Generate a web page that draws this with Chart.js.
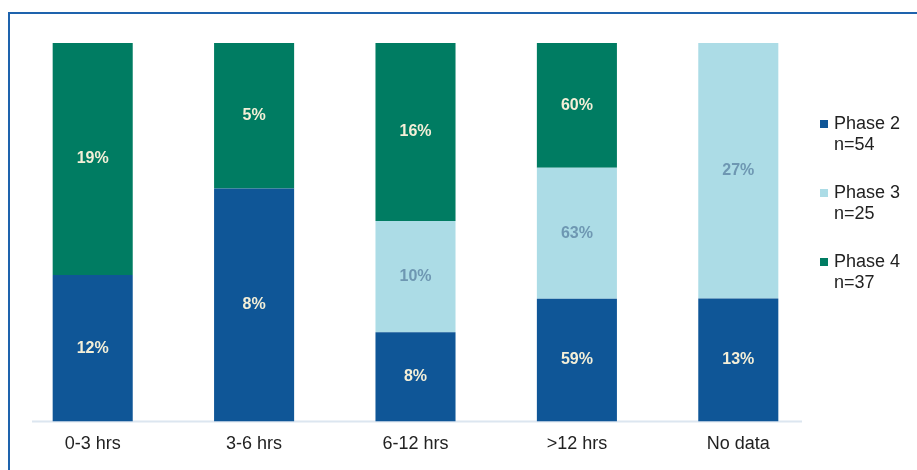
<!DOCTYPE html>
<html>
<head>
<meta charset="utf-8">
<script src="https://cdn.jsdelivr.net/npm/chart.js@4/dist/chart.umd.min.js"></script>
<style>
  html, body { margin: 0; padding: 0; background: #fff; }
  #wrap { position: relative; width: 917px; height: 470px; }
</style>
</head>
<body>
<div id="wrap"><canvas id="chart"></canvas></div>
<script>
// Time-to-event groups, share of each phase (labels are the printed percentages)
const categories = ['0-3 hrs', '3-6 hrs', '6-12 hrs', '>12 hrs', 'No data'];
const phase2 = [12, 8, 8, 59, 13];
const phase3 = [null, null, 10, 63, 27];
const phase4 = [19, 5, 16, 60, null];

const seriesNames = ['Phase 2', 'Phase 3', 'Phase 4'];
const seriesCounts = [54, 25, 37];
const seriesColors = ['#0f5697', '#acdce6', '#007c62'];
const labelColors = ['#f4efd8', '#6e97b2', '#f4efd8'];

const FONT = '"Liberation Sans", Arial, sans-serif';
const raw = [phase2, phase3, phase4];

// each column is stacked to 100
const totals = categories.map((_, i) => raw.reduce((s, arr) => s + (arr[i] || 0), 0));
const shares = raw.map(arr => arr.map((v, i) => (v == null ? null : v / totals[i] * 100)));

const segmentLabels = {
    id: 'segmentLabels',
    afterDatasetsDraw(chart) {
        const ctx = chart.ctx;
        ctx.save();
        ctx.font = 'bold 16px ' + FONT;
        ctx.textAlign = 'center';
        ctx.textBaseline = 'middle';
        chart.data.datasets.forEach((ds, di) => {
            const meta = chart.getDatasetMeta(di);
            meta.data.forEach((bar, i) => {
                const v = raw[di][i];
                if (v == null) return;
                ctx.fillStyle = labelColors[di];
                ctx.fillText(v + '%', bar.x, (bar.y + bar.base) / 2);
            });
        });
        ctx.restore();
    }
};

const frameAndLegend = {
    id: 'frameAndLegend',
    beforeDatasetsDraw(chart) {
        const ctx = chart.ctx;
        const area = chart.chartArea;
        ctx.save();
        ctx.strokeStyle = '#dce6f0';
        ctx.lineWidth = 2;
        ctx.beginPath();
        ctx.moveTo(32, area.bottom);
        ctx.lineTo(802, area.bottom);
        ctx.stroke();
        ctx.restore();
    },
    afterDraw(chart) {
        const ctx = chart.ctx;
        ctx.save();
        // outer frame
        ctx.strokeStyle = '#1e63ad';
        ctx.lineWidth = 2;
        ctx.beginPath();
        ctx.moveTo(9, 470);
        ctx.lineTo(9, 13);
        ctx.lineTo(917, 13);
        ctx.stroke();

        // legend
        ctx.font = '18px ' + FONT;
        ctx.textBaseline = 'middle';
        ctx.textAlign = 'left';
        seriesNames.forEach((name, i) => {
            const y = 124 + i * 69;
            ctx.fillStyle = seriesColors[i];
            ctx.fillRect(820, y - 4, 8, 8);
            ctx.fillStyle = '#222';
            ctx.fillText(name, 834, y);
            ctx.fillText('n=' + seriesCounts[i], 834, y + 21);
        });
        ctx.restore();
    }
};

new Chart(document.getElementById('chart'), {
    type: 'bar',
    data: {
        labels: categories,
        datasets: seriesNames.map((name, i) => ({
            label: name,
            data: shares[i],
            backgroundColor: seriesColors[i],
            borderWidth: 0,
            categoryPercentage: 1,
            barPercentage: 0.496
        }))
    },
    options: {
        responsive: true,
        maintainAspectRatio: false,
        animation: false,
        layout: { padding: { left: 12, right: 98, top: 43, bottom: 3 } },
        plugins: {
            legend: { display: false },
            tooltip: { enabled: false }
        },
        scales: {
            x: {
                stacked: true,
                grid: { display: false, drawTicks: false },
                border: { display: false },
                ticks: {
                    padding: 12,
                    color: '#222',
                    font: { family: FONT, size: 18 }
                }
            },
            y: {
                stacked: true,
                display: false,
                min: 0,
                max: 100
            }
        }
    },
    plugins: [segmentLabels, frameAndLegend]
});
</script>
</body>
</html>
